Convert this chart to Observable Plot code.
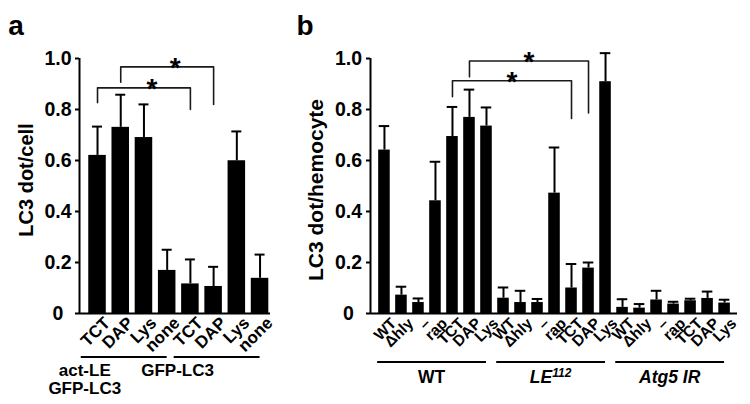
<!DOCTYPE html>
<html><head><meta charset="utf-8">
<script src="https://cdn.jsdelivr.net/npm/d3@7"></script>
<script src="https://cdn.jsdelivr.net/npm/@observablehq/plot@0.6"></script>
<style>
body{margin:0;background:#fff;}
#wrap{position:relative;width:750px;height:404px;overflow:hidden;background:#fff;}
#wrap svg{position:absolute;top:0;}
</style></head><body><div id="wrap"></div>
<script>
// ---------- Panel a data ----------
const aLabels = ["TCT","DAP","Lys","none","TCT","DAP","Lys","none"];
const aValues = [0.62,0.73,0.69,0.169,0.116,0.106,0.599,0.138];
const aErrors = [0.113,0.128,0.13,0.081,0.096,0.077,0.115,0.093];
const aGroupNames = [["act-LE","GFP-LC3"],["GFP-LC3"]];
const aGroupStart = [0,4];
const aGroupEnd = [3,7];
const aBrFrom = [0,1], aBrTo = [4,5];
const aBrTop = [0.885,0.967], aBrLeft = [0.827,0.907], aBrRight = [0.80,0.82];
const aYLabel = "LC3 dot/cell";

// ---------- Panel b data ----------
const bLabels = ["WT","Δhly","–","rap","TCT","DAP","Lys",
                 "WT","Δhly","–","rap","TCT","DAP","Lys",
                 "WT","Δhly","–","rap","TCT","DAP","Lys"];
const bValues = [0.641,0.072,0.043,0.442,0.694,0.769,0.735,
                 0.06,0.043,0.043,0.472,0.10,0.178,0.909,
                 0.024,0.021,0.053,0.037,0.05,0.059,0.041];
const bErrors = [0.094,0.033,0.016,0.153,0.116,0.109,0.073,
                 0.042,0.046,0.014,0.179,0.094,0.022,0.112,
                 0.032,0.016,0.036,0.009,0.008,0.027,0.013];
const bGroupNames = ["WT","LE","Atg5 IR"];
const bGroupSup = ["","112",""];
const bGroupItalic = [false,true,true];
const bGroupStart = [0,7,14];
const bGroupEnd = [6,13,20];
const bBrFrom = [4,5], bBrTo = [11,12];
const bBrTop = [0.913,0.99], bBrLeft = [0.85,0.928], bBrRight = [0.765,0.786];
const bYLabel = "LC3 dot/hemocyte";

const yTicks = [0,0.2,0.4,0.6,0.8,1.0];
const FONT = "'Liberation Sans', Arial, Helvetica, sans-serif";

function makePanel(cfg) {
  const n = cfg.labels.length;
  const x0 = cfg.xDomain[0];
  const data = cfg.labels.map((l,i)=>({i, label:l, v:cfg.values[i], e:cfg.errors[i]}));
  const brackets = cfg.brFrom.map((f,k)=>({k, from:f, to:cfg.brTo[k], top:cfg.brTop[k], left:cfg.brLeft[k], right:cfg.brRight[k]}));
  const brPts = [];
  brackets.forEach(b=>{
    brPts.push({k:b.k,x:b.from,y:b.left},{k:b.k,x:b.from,y:b.top},{k:b.k,x:b.to,y:b.top},{k:b.k,x:b.to,y:b.right});
  });
  const chart = Plot.plot({
    width: cfg.width, height: 404,
    marginLeft: cfg.ml, marginRight: cfg.mr, marginTop: 58, marginBottom: 91,
    x: {domain: cfg.xDomain, axis: null},
    y: {domain: [0,1], axis: null},
    style: {fontFamily: FONT, color: "black", background: "white", overflow: "visible"},
    marks: [
      Plot.rectY(data, {x1: d=>d.i-cfg.barW/2, x2: d=>d.i+cfg.barW/2, y1: 0, y2: "v", fill: "black"}),
      Plot.ruleX(data, {x: "i", y1: "v", y2: d=>d.v+d.e, stroke: "black", strokeWidth: 2}),
      Plot.ruleY(data, {y: d=>d.v+d.e, x1: d=>d.i-cfg.capW/2, x2: d=>d.i+cfg.capW/2, stroke: "black", strokeWidth: 2}),
      Plot.line(brPts, {x: "x", y: "y", z: "k", stroke: "#1a1a1a", strokeWidth: 1.6}),
      Plot.text(brackets, {x: b=>(b.from+b.to)/2, y: "top", text: ()=>"*", fontSize: 28, fontWeight: "bold", dx: cfg.starDx, dy: 1, fill: "black"}),
      Plot.ruleY([0], {stroke: "black", strokeWidth: 2}),
      Plot.ruleX([x0], {y1: 0, y2: 1, stroke: "black", strokeWidth: 2}),
      // y ticks (marks only) and labels
      Plot.axisY({ticks: yTicks, tickFormat: () => "", tickSize: 4, strokeWidth: 2, label: null}),
      Plot.text(yTicks, {x: () => x0, y: d => d, text: d => d === 0 ? "0" : d.toFixed(1),
                         dx: -cfg.ytc, textAnchor: "middle", lineAnchor: "middle",
                         fontSize: 19.5, fontWeight: "bold", fill: "black"}),
      // rotated category labels
      Plot.text(data, {x: "i", y: () => 0, text: "label", rotate: -45, textAnchor: "end", lineAnchor: "top",
                       dx: cfg.xdx, dy: cfg.xdy, fontSize: cfg.xfs, fontWeight: "bold", fill: "black"})
    ]
  });
  const sx = chart.scale("x"), sy = chart.scale("y");
  const svg = d3.select(chart);
  // panel letter
  svg.append("text").attr("x", cfg.letterX).attr("y", 35).attr("font-size", 28).attr("font-weight", "bold")
     .attr("font-family", FONT).text(cfg.letter);
  // y label
  svg.append("text").attr("transform", `translate(${cfg.ylabX},${cfg.ylabY}) rotate(-90)`)
     .attr("text-anchor", "middle").attr("font-size", cfg.ylabFs).attr("font-weight", "bold")
     .attr("font-family", FONT).text(cfg.yLabel);
  // group lines
  const y0 = sy.apply(0);
  cfg.gStart.forEach((s,k)=>{
    const x1 = sx.apply(s - cfg.gPadL), x2 = sx.apply(cfg.gEnd[k] + cfg.gPadR);
    svg.append("line").attr("x1", x1).attr("x2", x2).attr("y1", y0 + cfg.gLineDy).attr("y2", y0 + cfg.gLineDy)
       .attr("stroke", "black").attr("stroke-width", 2);
    cfg.drawGroupLabel(svg, k, x1, x2, y0);
  });
  return chart;
}

const wrap = document.getElementById("wrap");

const chartA = makePanel({
  labels: aLabels, values: aValues, errors: aErrors,
  brFrom: aBrFrom, brTo: aBrTo, brTop: aBrTop, brLeft: aBrLeft, brRight: aBrRight,
  width: 290, ml: 79, mr: 20, xDomain: [-0.776, 7.45], barW: 0.755, capW: 0.43,
  ytc: 21.5, xdx: 5, xdy: 2, xfs: 17, starDx: 8,
  letter: "a", letterX: 16, yLabel: aYLabel, ylabX: 33, ylabY: 180, ylabFs: 20,
  gStart: aGroupStart, gEnd: aGroupEnd, gPadL: 0.7, gPadR: 0, gLineDy: 44,
  drawGroupLabel: (svg, k, x1, x2, y0) => {
    aGroupNames[k].forEach((t,j)=>{
      svg.append("text").attr("x", x1 + 4).attr("y", y0 + 63 + j*18).attr("font-size", 17)
         .attr("font-weight", "bold").attr("font-family", FONT).text(t);
    });
  }
});
chartA.style.left = "0px";
wrap.appendChild(chartA);

const chartB = makePanel({
  labels: bLabels, values: bValues, errors: bErrors,
  brFrom: bBrFrom, brTo: bBrTo, brTop: bBrTop, brLeft: bBrLeft, brRight: bBrRight,
  width: 460, ml: 80, mr: 13, xDomain: [-0.82, 20.76], barW: 0.68, capW: 0.62,
  ytc: 22, xdx: 5, xdy: 3, xfs: 15.5, starDx: 0,
  letter: "b", letterX: 15, yLabel: bYLabel, ylabX: 33, ylabY: 190, ylabFs: 21,
  gStart: bGroupStart, gEnd: bGroupEnd, gPadL: 0.4, gPadR: 0, gLineDy: 49,
  drawGroupLabel: (svg, k, x1, x2, y0) => {
    const t = svg.append("text").attr("x", (x1 + x2)/2).attr("y", y0 + 70).attr("text-anchor", "middle")
       .attr("font-size", 17.5).attr("font-weight", "bold").attr("font-family", FONT)
       .attr("font-style", bGroupItalic[k] ? "italic" : "normal");
    t.append("tspan").text(bGroupNames[k]);
    if (bGroupSup[k]) t.append("tspan").attr("font-size", 12).attr("dy", -6).text(bGroupSup[k]);
  }
});
chartB.style.left = "290px";
wrap.appendChild(chartB);
</script>
</body></html>
